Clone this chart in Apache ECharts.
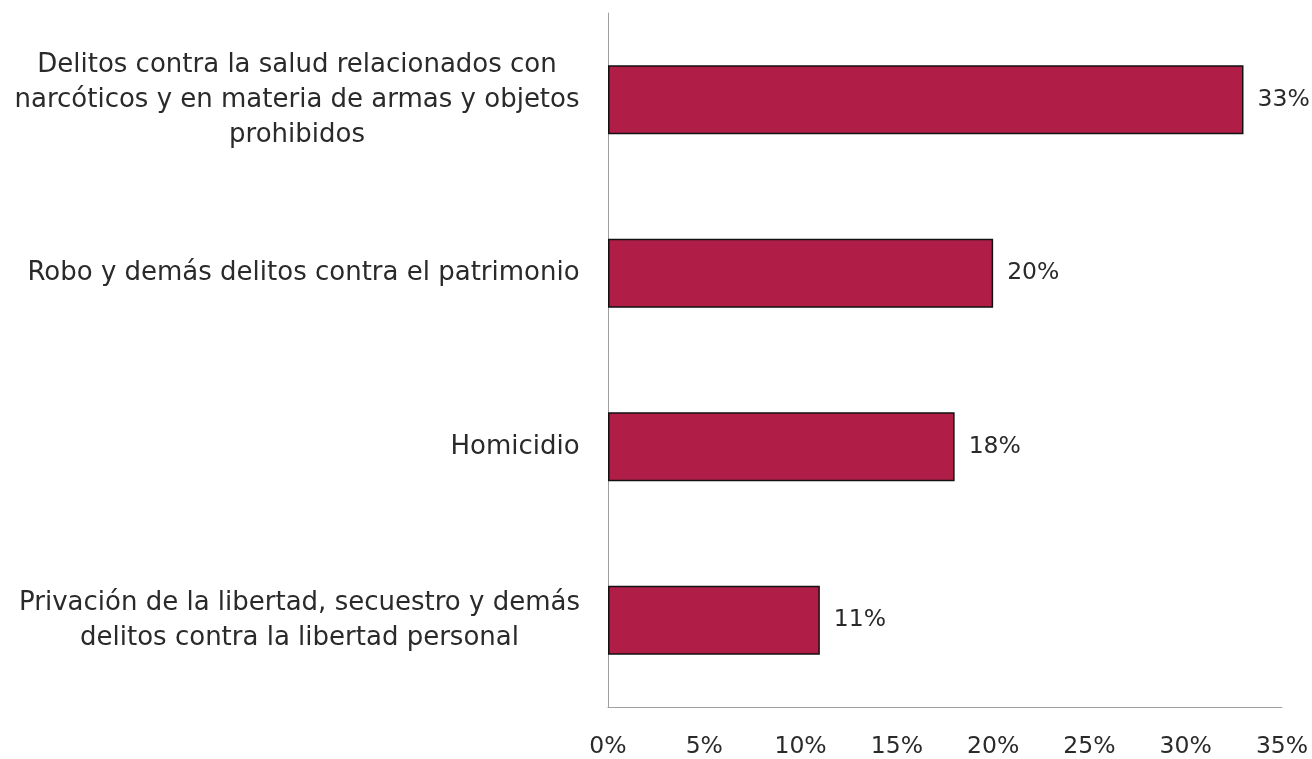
<!DOCTYPE html>
<html>
<head>
<meta charset="utf-8">
<script src="https://cdn.jsdelivr.net/npm/echarts@6/dist/echarts.min.js"></script>
<style>
html, body { margin: 0; padding: 0; background: #fff; }
#main { width: 1312px; height: 759px; }
</style>
</head>
<body>
<div id="main"></div>
<script>
// categorias (de abajo hacia arriba, como las dibuja el eje)
var categorias = [
    'Privación de la libertad, secuestro y demás\ndelitos contra la libertad personal',
    'Homicidio',
    'Robo y demás delitos contra el patrimonio',
    'Delitos contra la salud relacionados con\nnarcóticos y en materia de armas y objetos\nprohibidos'
];
var porcentajes = [11, 18, 20, 33];
var ticksX = [0, 5, 10, 15, 20, 25, 30, 35];

var fuente = 'DejaVu Sans';
var tamCat = 26;
var colorTexto = '#2a2a2a';

// ancho de cada etiqueta para centrar las lineas dentro del bloque
var ctx = document.createElement('canvas').getContext('2d');
ctx.font = tamCat + 'px "' + fuente + '"';
var rich = {};
categorias.forEach(function (txt, i) {
    var w = 0;
    txt.split('\n').forEach(function (l) {
        w = Math.max(w, ctx.measureText(l).width);
    });
    rich['r' + i] = {
        width: Math.ceil(w),
        align: 'center',
        fontSize: tamCat,
        lineHeight: 35,
        fontFamily: fuente,
        color: colorTexto
    };
});

var myChart = echarts.init(document.getElementById('main'));
var option = {
    animation: false,
    grid: {
        left: 608,
        right: 30,
        top: 13,
        bottom: 47
    },
    xAxis: {
        type: 'value',
        min: ticksX[0],
        max: ticksX[ticksX.length - 1],
        interval: 5,
        splitLine: { show: false },
        axisTick: { show: false },
        axisLine: { show: true, lineStyle: { color: '#a0a0a0', width: 1 } },
        axisLabel: {
            margin: 28,
            color: colorTexto,
            fontSize: 23.5,
            fontFamily: fuente,
            formatter: '{value}%'
        }
    },
    yAxis: {
        type: 'category',
        data: categorias,
        axisTick: { show: false },
        axisLine: { show: true, lineStyle: { color: '#a0a0a0', width: 1 } },
        axisLabel: {
            margin: 28,
            align: 'right',
            formatter: function (value, index) {
                return value.split('\n').map(function (l) {
                    return '{r' + index + '|' + l + '}';
                }).join('\n');
            },
            rich: rich
        }
    },
    series: [
        {
            type: 'bar',
            data: porcentajes,
            barWidth: 69,
            itemStyle: {
                color: '#B01E48',
                borderColor: '#111',
                borderWidth: 1.5
            },
            label: {
                show: true,
                position: 'right',
                distance: 14,
                color: colorTexto,
                fontSize: 23.5,
                fontFamily: fuente,
                formatter: '{c}%'
            }
        }
    ]
};
myChart.setOption(option);
</script>
</body>
</html>
